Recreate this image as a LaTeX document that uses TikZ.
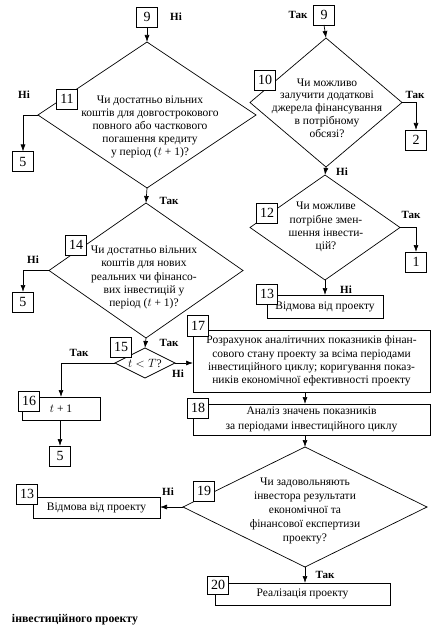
\documentclass[tikz,border=0pt]{standalone}
\usepackage{fontspec}
\setmainfont{Liberation Serif}
\usetikzlibrary{shapes.geometric,arrows.meta}
\begin{document}
\begin{tikzpicture}[x=1pt,y=-1pt,
  every node/.style={inner sep=0pt,outer sep=0pt},
  line width=0.7pt,
  dia/.style={draw,shape=diamond},
  rbox/.style={draw,align=center,font=\fontsize{11.5}{13.3}\selectfont},
  numbox/.style={draw,fill=white,minimum width=21pt,minimum height=20pt,font=\fontsize{14}{14}\selectfont},
  dtext/.style={align=center,font=\fontsize{11.5}{13.2}\selectfont},
  lbl/.style={font=\bfseries\fontsize{11}{12}\selectfont},
  arr/.style={-{Latex[length=7pt,width=5pt]}}]
\useasboundingbox (0,0) rectangle (442,628);
% diamonds
\node[dia,minimum width=218pt,minimum height=146pt] (d11) at (147,115) {};
\node[dia,minimum width=194pt,minimum height=135pt] (d14) at (146,270.5) {};
\node[dia,minimum width=60pt,minimum height=30pt] (d15) at (145,363) {};
\node[dia,minimum width=152pt,minimum height=129pt] (d10) at (326,102.5) {};
\node[dia,minimum width=150pt,minimum height=105pt] (d12) at (325,227.5) {};
\node[dia,minimum width=244pt,minimum height=120pt] (d19) at (305,507) {};
% diamond texts
\node[dtext] (t11) at (150,127) {Чи достатньо вільних\\коштів для довгострокового\\повного або часткового\\погашення кредиту\\у період ($t$ + 1)?};
\node[dtext] (t14) at (144,277.5) {Чи достатньо вільних\\коштів для нових\\реальних чи фінансо-\\вих інвестицій у\\період ($t$ + 1)?};
\node[dtext] (t15) at (145,363.5) {$t < T$?};
\node[dtext,font=\fontsize{11.5}{12.8}\selectfont] (t10) at (327,108) {Чи можливо\\залучити додаткові\\джерела фінансування\\в потрібному\\обсязі?};
\node[dtext] (t12) at (326,227) {Чи можливе\\потрібне змен-\\шення інвести-\\цій?};
\node[dtext,font=\fontsize{11.5}{14}\selectfont] (t19) at (305,511) {Чи задовольняють\\інвестора результати\\економічної та\\фінансової експертизи\\проекту?};
% rectangles
\node[rbox,minimum width=78pt,minimum height=23pt] (r16) at (61,408.5) {$t$ + 1};
\node[rbox,minimum width=237pt,minimum height=62pt] (r17) at (311.5,361) {Розрахунок аналітичних показників фінан-\\сового стану проекту за всіма періодами\\інвестиційного циклу; коригування показ-\\ників економічної ефективності проекту};
\node[rbox,minimum width=237pt,minimum height=31pt,font=\fontsize{11.5}{15}\selectfont] (r18) at (311.5,419.5) {Аналіз значень показників\\за періодами інвестиційного циклу};
\node[rbox,minimum width=116pt,minimum height=23pt] (r13a) at (325,306.5) {Відмова від проекту};
\node[rbox,minimum width=127pt,minimum height=21pt] (r13b) at (96.5,507.5) {Відмова від проекту};
\node[rbox,minimum width=175pt,minimum height=22pt] (r20) at (302.5,594) {Реалізація проекту};
% connectors
\draw[arr] (d11.south) -- (d14.north);
\draw[arr] (d14.south) -- (d15.north);
\draw[arr] (d10.south) -- (d12.north);
\draw[arr] (d12.south) -- (r13a.north);
\draw[arr] (d15.east) -- (d15.east -| r17.west);
\draw[arr] (r17.south -| d19.north) -- (r18.north -| d19.north);
\draw[arr] (r18.south -| d19.north) -- (d19.north);
\draw[arr] (d19.west) -- (d19.west -| r13b.east);
\draw[arr] (d19.south) -- (d19.south |- r20.north);
% number boxes
\node[numbox] (b9L) at (147,17) {9};
\node[numbox] (b9R) at (324,15) {9};
\node[numbox] (b11) at (67,99) {11};
\node[numbox] (b5a) at (23,161.5) {5};
\node[numbox] (b14) at (76,245) {14};
\node[numbox] (b5b) at (23,302) {5};
\node[numbox] (b10) at (265,80) {10};
\node[numbox] (b2) at (416,140) {2};
\node[numbox] (b12) at (267,213) {12};
\node[numbox] (b1) at (416,262) {1};
\node[numbox] (b13a) at (267,294) {13};
\node[numbox] (b15) at (121,347) {15};
\node[numbox,minimum height=21pt] (b17) at (198,326) {17};
\node[numbox] (b16) at (29,401) {16};
\node[numbox] (b18) at (198,408) {18};
\node[numbox] (b5c) at (60,456) {5};
\node[numbox] (b13b) at (27,494) {13};
\node[numbox] (b19) at (204,491) {19};
\node[numbox,minimum height=18pt] (b20) at (218,585) {20};
% connectors from boxes
\draw[arr] (b9L.south) -- (d11.north);
\draw[arr] (b9R.south) -- (d10.north);
\draw[arr] (d11.west) -| (b5a.north);
\draw[arr] (d14.west) -| (b5b.north);
\draw[arr] (d15.west) -| (r16.north);
\draw[arr] (r16.south -| b5c.north) -- (b5c.north);
\draw[arr] (d10.east) -| (b2.north);
\draw[arr] (d12.east) -| (b1.north);
% labels
\node[lbl] (l1) at (176,17) {Ні};
\node[lbl] (l2) at (298,15) {Так};
\node[lbl] (l3) at (24,95) {Ні};
\node[lbl] (l4) at (169,201) {Так};
\node[lbl] (l5) at (33,260) {Ні};
\node[lbl] (l6) at (169,343) {Так};
\node[lbl] (l7) at (79,353) {Так};
\node[lbl] (l8) at (178,374) {Ні};
\node[lbl] (l9) at (415,95) {Так};
\node[lbl] (l10) at (342,172) {Ні};
\node[lbl] (l11) at (411,215) {Так};
\node[lbl] (l12) at (346,290) {Ні};
\node[lbl] (l13) at (168,492) {Ні};
\node[lbl] (l14) at (325,575) {Так};
\node[lbl,anchor=west,font=\bfseries\fontsize{11.8}{12}\selectfont] (cap) at (12,620) {інвестиційного проекту};
\end{tikzpicture}
\end{document}
